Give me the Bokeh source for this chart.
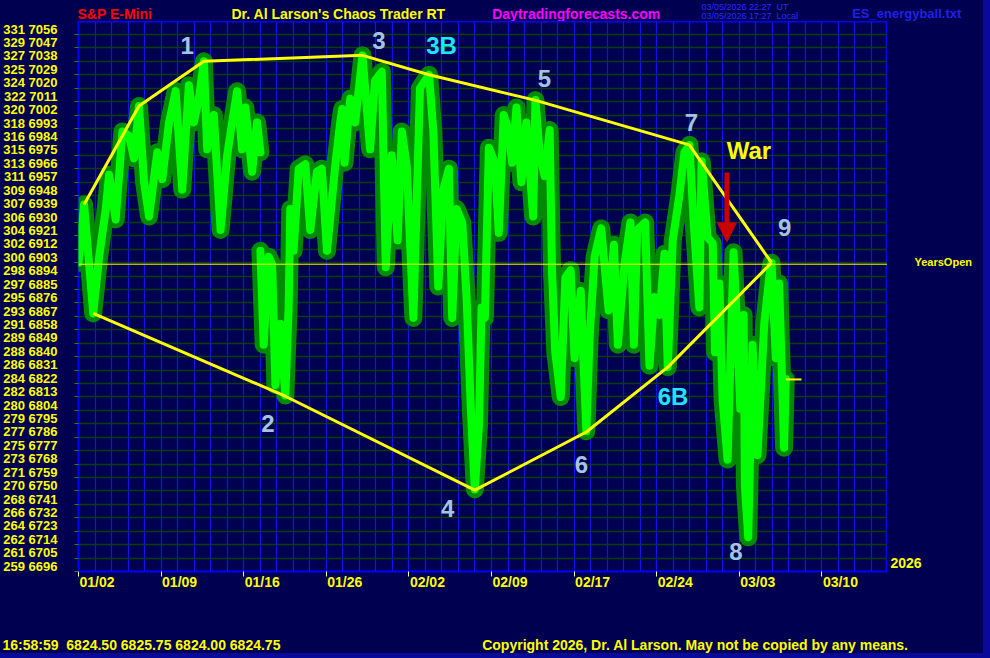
import math
from bokeh.plotting import figure
from bokeh.layouts import column, row
from bokeh.models import (FixedTicker, Span, ColumnDataSource, Arrow, NormalHead,
                          Range1d, LinearAxis)
from bokeh.core.properties import value
from bokeh.embed import file_html
from bokeh.resources import INLINE

# ---------------- data ----------------
# x = trading-day index (0 = 01/02/2026), y = S&P E-mini price
date_ticks = [0, 5, 10, 15, 20, 25, 30, 35, 40, 45]
date_labels = ["01/02", "01/09", "01/16", "01/26", "02/02", "02/09", "02/17", "02/24", "03/03", "03/10"]

price_ticks = [7056, 7047, 7038, 7029, 7020, 7011, 7002, 6993, 6984, 6975, 6966, 6957, 6948, 6939,
               6930, 6921, 6912, 6903, 6894, 6885, 6876, 6867, 6858, 6849, 6840, 6831, 6822, 6813,
               6804, 6795, 6786, 6777, 6768, 6759, 6750, 6741, 6732, 6723, 6714, 6705, 6696]
index_labels = [331, 329, 327, 325, 324, 322, 320, 318, 316, 315, 313, 311, 309, 307,
                306, 304, 302, 300, 298, 297, 295, 293, 291, 289, 288, 286, 284, 282,
                280, 279, 277, 275, 273, 271, 270, 268, 266, 264, 262, 261, 259]

# price trace before the MLK holiday gap
trace1_day = [0.0, 0.04, 0.34, 0.89, 1.25, 1.65, 1.85, 2.25, 2.66, 3.06, 3.36, 3.66, 3.97, 4.27,
              4.77, 5.07, 5.48, 5.88, 6.28, 6.68, 6.98, 7.29, 7.59, 7.79, 8.19, 8.60, 9.00, 9.30,
              9.60, 9.90, 10.10, 10.51, 10.81, 11.01]
trace1_price = [6903, 6907, 6942, 6869, 6907, 6939, 6962, 6932, 6991, 6988, 6973, 7008, 6957, 6934,
                6977, 6959, 6997, 7018, 6952, 7022, 6997, 7013, 7038, 6979, 7002, 6925, 6975, 6997,
                7018, 6979, 7007, 6964, 6997, 6977]
# price trace after the gap
trace2_day = [11.01, 11.21, 11.51, 11.72, 11.92, 12.22, 12.52, 12.72, 12.82, 13.02, 13.33, 13.73,
              14.03, 14.43, 14.73, 15.04, 15.54, 15.84, 15.96, 16.10, 16.45, 16.75, 17.19, 17.65,
              17.95, 18.36, 18.60, 18.96, 19.32, 19.57, 19.87, 20.27, 20.67, 21.22, 21.48, 21.78,
              22.08, 22.42, 22.62, 22.89, 23.23, 23.49, 23.75, 23.99, 24.24, 24.40, 24.60, 24.84,
              25.20, 25.44, 25.74, 26.01, 26.25, 26.51, 26.81, 27.11, 27.52, 27.66, 27.92, 28.22,
              28.52, 28.66, 28.86, 29.19, 29.47, 29.79, 30.03, 30.40, 30.60, 30.74, 30.94, 31.24,
              31.64, 32.09, 32.41, 32.65, 33.05, 33.41, 33.62, 33.82, 34.30, 34.56, 34.86, 35.17,
              35.47, 35.67, 35.97, 36.37, 36.68, 36.98, 37.24, 37.58, 37.72, 38.08, 38.39, 38.53,
              38.79, 38.99, 39.29, 39.65, 39.86, 40.06, 40.26, 40.34, 40.54, 40.80, 41.10, 41.51,
              41.81, 41.95, 42.21, 42.41, 42.61, 42.71, 42.81]
trace2_price = [6911, 6848, 6907, 6902, 6821, 6862, 6814, 6873, 6939, 6911, 6966, 6969,
                6925, 6964, 6966, 6911, 6968, 6997, 7006, 6970, 7013, 6997, 7042, 6979,
                7025, 7031, 6900, 6975, 6918, 6991, 6968, 6866, 7020, 7029, 6991, 6887,
                6952, 6966, 6866, 6939, 6930, 6880, 6805, 6751, 6794, 6873, 6866, 6980,
                6970, 6923, 7002, 6993, 6970, 7007, 6957, 6997, 6934, 7012, 6975, 6961,
                6992, 6898, 6843, 6813, 6893, 6898, 6839, 6884, 6828, 6790, 6853, 6907,
                6926, 6871, 6915, 6848, 6902, 6930, 6848, 6925, 6930, 6834, 6880, 6868,
                6909, 6833, 6918, 6948, 6977, 6982, 6930, 6873, 6971, 6920, 6916, 6843,
                6889, 6811, 6771, 6910, 6862, 6805, 6868, 6753, 6719, 6848, 6774, 6862,
                6893, 6903, 6839, 6889, 6816, 6779, 6825]

# pivot envelope lines
upper_day = [0.34, 3.66, 7.59, 17.19, 21.22, 27.62, 36.97, 41.95]
upper_price = [6942, 7008, 7038, 7042, 7029, 7012, 6982, 6903]
lower_day = [0.89, 12.52, 23.99, 30.74, 35.67, 41.95]
lower_price = [6869, 6813.5, 6750.5, 6789.5, 6833, 6903]

years_open = 6902
last_price = 6824.75
last_day = [42.81, 43.76]

pivot_names = ["1", "2", "3", "3B", "4", "5", "6", "6B", "7", "8", "9"]
pivot_day = [6.58, 11.47, 18.18, 21.98, 22.34, 28.20, 30.45, 35.99, 37.10, 39.79, 42.75]
pivot_price = [7048.6, 6795.5, 7052.0, 7048.3, 6738.0, 7026.2, 6767.5, 6813.4, 6997.0, 6709.6, 6926.7]
pivot_color = ["#a4c4e4", "#a4c4e4", "#a4c4e4", "#1ee6ff", "#a4c4e4", "#a4c4e4", "#a4c4e4",
               "#1ee6ff", "#a4c4e4", "#a4c4e4", "#a4c4e4"]

# header / footer texts
header_texts = ["S&P E-Mini", "Dr. Al Larson's Chaos Trader RT", "Daytradingforecasts.com",
                "ES_energyball.txt"]
header_colors = ["#ff0000", "#ffff00", "#ff00ff", "#2020e8"]
stamp_texts = ["03/05/2026 22:27\u00a0\u00a0UT", "03/05/2026 17:27\u00a0\u00a0Local"]
footer_texts = ["16:58:59\u00a0\u00a06824.50 6825.75 6824.00 6824.75",
                "Copyright 2026, Dr. Al Larson. May not be copied by any means."]

NAVY = "#000050"
FONT = "Liberation Sans"
DATE_LABEL_SHIFT = 1.12     # date labels start just right of their tick
PRICE_LABEL_SHIFT = 3.6     # price labels sit just above their tick


def text_panel(w, h, frame_h=None):
    fh = h if frame_h is None else frame_h
    f = figure(width=w, height=h, output_backend="svg", toolbar_location=None,
               x_range=Range1d(0, w), y_range=Range1d(fh, 0),
               x_axis_type=None, y_axis_type=None,
               min_border_left=0, min_border_right=0,
               min_border_top=0, min_border_bottom=h - fh,
               background_fill_color=NAVY, border_fill_color=NAVY, outline_line_color=None)
    return f


# ---------------- header (y = px from top) ----------------
top = text_panel(983, 21)
top.text([77, 231, 491.7], [13.8, 13.8, 13.3], text=header_texts[:3], text_color=header_colors[:3],
         text_font=value(FONT), text_font_style="bold", text_font_size="14px",
         text_align="left", text_baseline="middle")
top.text([851.7], [12.7], text=header_texts[3:], text_color=header_colors[3:],
         text_font=value(FONT), text_font_style="bold", text_font_size="13px",
         text_align="left", text_baseline="middle")
top.text([701, 701], [6.4, 15.8], text=stamp_texts, text_color="#2a2aff",
         text_font=value(FONT), text_font_size="9px", text_align="left", text_baseline="middle")

# ---------------- main chart ----------------
p = figure(width=887, height=610, output_backend="svg", toolbar_location=None,
           x_range=Range1d(0, 48.97), y_range=Range1d(6696, 7064.7),
           min_border_left=76, min_border_right=0, min_border_top=0, min_border_bottom=60,
           background_fill_color=NAVY, border_fill_color=NAVY,
           outline_line_color="#0000ff", outline_line_width=2)

p.xgrid.ticker = FixedTicker(ticks=list(range(0, 49)))
p.xgrid.grid_line_color = "#1212f0"
p.xgrid.grid_line_width = 1.2
p.ygrid.ticker = FixedTicker(ticks=price_ticks)
p.ygrid.grid_line_color = "#0b3d0b"
p.ygrid.grid_line_width = 1.5

# bottom: tick-mark axis (next to frame) + label axis
xa = p.xaxis[0]
xa.ticker = FixedTicker(ticks=date_ticks)
xa.major_label_overrides = {t: "" for t in date_ticks}
xa.major_label_text_font_size = "0px"
xa.major_label_standoff = 0
xa.axis_line_color = None
xa.major_tick_in = 0
xa.major_tick_out = 5
xa.major_tick_line_color = "#ffffa0"
xa.minor_tick_line_color = None

date_label_pos = [t + DATE_LABEL_SHIFT for t in date_ticks]
xl = LinearAxis(ticker=FixedTicker(ticks=date_label_pos),
                major_label_overrides={t: s for t, s in zip(date_label_pos, date_labels)},
                axis_line_color=None, major_tick_line_color=None, minor_tick_line_color=None,
                major_tick_in=0, major_tick_out=0, major_label_standoff=-3,
                major_label_text_color="#ffff00", major_label_text_font=FONT,
                major_label_text_font_style="bold", major_label_text_font_size="14px")
p.add_layout(xl, "below")

# left: tick-mark axis (next to frame) + label axis
ya = p.yaxis[0]
ya.ticker = FixedTicker(ticks=price_ticks)
ya.major_label_overrides = {t: "" for t in price_ticks}
ya.major_label_text_font_size = "0px"
ya.major_label_standoff = 0
ya.axis_line_color = None
ya.major_tick_in = 0
ya.major_tick_out = 4
ya.major_tick_line_color = "#1a8c1a"
ya.minor_tick_line_color = None

price_label_pos = [t + PRICE_LABEL_SHIFT for t in price_ticks]
yl = LinearAxis(ticker=FixedTicker(ticks=price_label_pos),
                major_label_overrides={lp: f"{i}\u00a0{t}" for lp, t, i in
                                       zip(price_label_pos, price_ticks, index_labels)},
                axis_line_color=None, major_tick_line_color=None, minor_tick_line_color=None,
                major_tick_in=0, major_tick_out=0, major_label_standoff=17,
                major_label_text_color="#ffff00", major_label_text_font=FONT,
                major_label_text_font_style="bold", major_label_text_font_size="13px")
p.add_layout(yl, "left")

# price trace (thick dark band + bright core)
tr_day = trace1_day + [math.nan] + trace2_day
tr_price = trace1_price + [math.nan] + trace2_price
src = ColumnDataSource(dict(x=tr_day, y=tr_price))
p.line("x", "y", source=src, line_color="#008a00", line_width=18, line_join="round", line_cap="round")
p.line("x", "y", source=src, line_color="#00ff00", line_width=8, line_join="round", line_cap="round")

p.add_layout(Span(location=years_open, dimension="width", line_color="#ffff00", line_width=1))

p.line(upper_day, upper_price, line_color="#ffff00", line_width=3)
p.line(lower_day, lower_price, line_color="#ffff00", line_width=3)
p.line(last_day, [last_price, last_price], line_color="#ffff00", line_width=2)

psrc = ColumnDataSource(dict(x=pivot_day, y=pivot_price, t=pivot_names, c=pivot_color))
p.text("x", "y", text="t", source=psrc, text_color="c", text_font=value(FONT),
       text_font_style="bold", text_font_size="24px", text_align="center", text_baseline="middle")
p.text([40.58], [6978.3], text=["War"], text_color="#ffff00", text_font=value(FONT),
       text_font_style="bold", text_font_size="24px", text_align="center", text_baseline="middle")

p.add_layout(Arrow(end=NormalHead(size=19, fill_color="#c80000", line_color="#c80000"),
                   x_start=39.25, y_start=6963.5, x_end=39.25, y_end=6917.0,
                   line_color="#c80000", line_width=5))

# ---------------- right side (frame aligned with the chart frame, y = px from frame top) ----
side = text_panel(96, 610, frame_h=550)
side.text([27], [240], text=["YearsOpen"], text_color="#ffff00", text_font=value(FONT),
          text_font_style="bold", text_font_size="11px", text_align="left", text_baseline="middle")
side.text([3], [541], text=["2026"], text_color="#ffff00", text_font=value(FONT),
          text_font_style="bold", text_font_size="14px", text_align="left", text_baseline="middle")

# ---------------- footer ----------------
bottom = text_panel(983, 22)
bottom.text([2, 481.7], [13.6, 13.6], text=footer_texts, text_color="#ffff00", text_font=value(FONT),
            text_font_style="bold", text_font_size="14px", text_align="left", text_baseline="middle")

layout = column(top, row(p, side, spacing=0), bottom, spacing=0)

html = file_html(layout, INLINE)
i = html.rfind("<body>")
html = (html[:i] + '<body style="background:#000050;box-shadow:inset -7px -7px 0 #0a0a9a;">'
        + html[i + len("<body>"):])
open("out.html", "w").write(html)
